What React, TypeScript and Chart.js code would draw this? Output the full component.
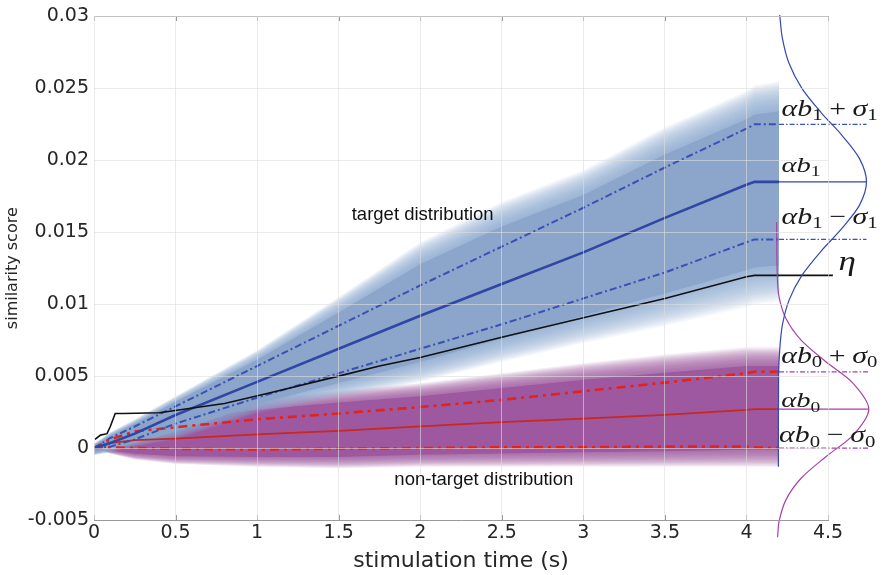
import React, { useEffect, useRef } from "react";
import { Chart, registerables } from "chart.js";
import type { ChartConfiguration, Plugin } from "chart.js";

Chart.register(...registerables);

// shared time grid (s) of the two distributions
const timeS = [0, 0.1, 0.25, 0.5, 1, 1.5, 2, 2.5, 3, 3.5, 4, 4.05, 4.2];

// target distribution: mean, +/- sigma and the outer edge of the shading
const targetMean = [0, 0.00035, 0.001, 0.0023, 0.0046, 0.0069, 0.0092, 0.0114, 0.0136, 0.016, 0.0183, 0.0185, 0.0185];
const targetUpper = [0, 0.0007, 0.0015, 0.0029, 0.0057, 0.0085, 0.0113, 0.014, 0.0167, 0.0195, 0.0222, 0.0225, 0.0225];
const targetLower = [0, 0.0001, 0.0006, 0.0017, 0.0035, 0.0052, 0.0069, 0.0086, 0.0104, 0.0122, 0.0143, 0.0145, 0.0145];
const targetShadeTop = [0.0003, 0.0011, 0.002, 0.0036, 0.0068, 0.0105, 0.0143, 0.0171, 0.0193, 0.0223, 0.0248, 0.0252, 0.0255];
const targetShadeBottom = [-0.0005, -0.0003, 0.0001, 0.0006, 0.0024, 0.0035, 0.0046, 0.006, 0.0073, 0.0085, 0.0098, 0.01, 0.0102];

// non-target distribution
const nontargetMean = [0, 0.00035, 0.00055, 0.00065, 0.00095, 0.0012, 0.0015, 0.0018, 0.00205, 0.0023, 0.00265, 0.0027, 0.0027];
const nontargetUpper = [0, 0.0006, 0.00115, 0.00145, 0.002, 0.0024, 0.00285, 0.00335, 0.00395, 0.00455, 0.0052, 0.0053, 0.0053];
const nontargetLower = [0, 0.00005, 0, -0.00005, -0.0001, -0.00005, 0, 0.00005, 0.00005, 0.0001, 0.0001, 0.00005, 0];
const nontargetShadeTop = [0, 0.0008, 0.0016, 0.0026, 0.0034, 0.004, 0.0045, 0.0052, 0.0059, 0.0065, 0.007, 0.007, 0.007];
const nontargetShadeBottom = [0, -0.0004, -0.0008, -0.0011, -0.0013, -0.0014, -0.0013, -0.0013, -0.0013, -0.0013, -0.0013, -0.0013, -0.0013];

// threshold eta
const etaTime = [0.006, 0.04, 0.08, 0.1, 0.13, 0.18, 0.4, 0.8, 1.1, 1.5, 1.75, 2, 2.5, 3, 3.5, 4, 4.05, 4.53];
const etaValue = [0.0006, 0.0009, 0.001, 0.0015, 0.0024, 0.0024, 0.00245, 0.0031, 0.0039, 0.005, 0.0057, 0.0063, 0.0077, 0.00905, 0.0104, 0.0119, 0.012, 0.012];

// density curves drawn sideways at the right
const targetPdfValue = [0.0301, 0.0285, 0.0268, 0.025, 0.0233, 0.0217, 0.0201, 0.0185, 0.0169, 0.0153, 0.0137, 0.012, 0.0103, 0.0086, 0.007, 0.005, -0.0013];
const targetPdfTime = [4.204, 4.22, 4.259, 4.34, 4.459, 4.588, 4.694, 4.736, 4.694, 4.588, 4.459, 4.34, 4.262, 4.221, 4.205, 4.197, 4.196];
const nontargetPdfValue = [0.0157, 0.012, 0.0105, 0.009, 0.0075, 0.006, 0.0045, 0.0027, 0.0009, -0.0006, -0.0021, -0.0036, -0.0051, -0.0062];
const nontargetPdfTime = [4.185, 4.189, 4.2, 4.242, 4.335, 4.487, 4.654, 4.75, 4.654, 4.487, 4.335, 4.242, 4.2, 4.191];

const xTickLabels = ["0", "0.5", "1", "1.5", "2", "2.5", "3", "3.5", "4", "4.5"];
const yTickLabels = ["-0.005", "0", "0.005", "0.01", "0.015", "0.02", "0.025", "0.03"];

const CORE = 0.7;
const RINGS = 16;
const STRETCH = 1.3;

const pts = (xs: number[], ys: number[]) => xs.map((x, i) => ({ x, y: ys[i] }));
const last = (a: number[]) => a[a.length - 1];
const tickText = (labels: string[], v: number | string) =>
  labels.find((l) => Math.abs(Number(l) - Number(v)) < 1e-9) ?? "";

// solid core plus a stack of faint rings so the shading fades outward
function band(mean: number[], top: number[], bottom: number[], rgb: string, coreAlpha: number, ringAlpha: number, order: number) {
  const out: any[] = [];
  const edge = (k: number, env: number[]) => timeS.map((x, i) => ({ x, y: mean[i] + k * (env[i] - mean[i]) }));
  const levels = [CORE];
  for (let j = 1; j <= RINGS; j++) levels.push(CORE + ((1 - CORE) * j) / RINGS);
  levels.forEach((k, j) => {
    const base = { borderColor: "transparent", borderWidth: 0, pointRadius: 0, order };
    out.push({ ...base, data: edge(k, bottom), fill: false });
    out.push({ ...base, data: edge(k, top), fill: "-1", backgroundColor: `rgba(${rgb},${j === 0 ? coreAlpha : ringAlpha})` });
  });
  return out;
}

function line(data: { x: number; y: number }[], color: string, width: number, order: number, dash: number[] = [], clip = true) {
  const ds: any = {
    data,
    borderColor: color,
    borderWidth: width,
    borderDash: dash,
    pointRadius: 0,
    fill: false,
    tension: 0,
    order,
  };
  if (!clip) ds.clip = false;
  return ds;
}

const targetEnd = Math.max(...targetPdfTime);
const nontargetEnd = Math.max(...nontargetPdfTime);
const flat = (from: number, to: number, y: number) => [{ x: from, y }, { x: to, y }];

const BLUE = "rgb(47,70,165)";
const BLUE_DASH = "rgb(58,80,180)";
const RED = "rgb(200,40,30)";
const RED_DASH = "rgb(226,34,28)";
const PURPLE = "rgb(168,64,166)";

const datasets: any[] = [
  { ...line(pts(targetPdfTime, targetPdfValue), "rgb(52,72,175)", 1.2, 0, [], false), tension: 0.3 },
  { ...line(pts(nontargetPdfTime, nontargetPdfValue), PURPLE, 1.2, 0, [], false), tension: 0.3 },
  line(pts(etaTime, etaValue), "#111111", 1.6, 1, [], false),
  line(pts(timeS, targetMean), BLUE, 2.6, 2),
  line(pts(timeS, targetUpper), BLUE_DASH, 2, 3, [7, 3, 2, 3]),
  line(pts(timeS, targetLower), BLUE_DASH, 2, 3, [7, 3, 2, 3]),
  line(pts(timeS, nontargetMean), RED, 1.8, 4),
  line(pts(timeS, nontargetUpper), RED_DASH, 2.6, 4, [9, 5, 3, 5]),
  line(pts(timeS, nontargetLower), RED_DASH, 2.6, 4, [9, 5, 3, 5]),
  line(flat(last(timeS), targetEnd, last(targetMean)), BLUE, 1.2, 5, [], false),
  line(flat(last(timeS), targetEnd, last(targetUpper)), BLUE_DASH, 1.2, 5, [5, 2, 1.5, 2], false),
  line(flat(last(timeS), targetEnd, last(targetLower)), BLUE_DASH, 1.2, 5, [5, 2, 1.5, 2], false),
  line(flat(last(timeS), nontargetEnd, last(nontargetMean)), PURPLE, 1.2, 5, [], false),
  line(flat(last(timeS), nontargetEnd, last(nontargetUpper)), PURPLE, 1.2, 5, [5, 2, 1.5, 2], false),
  line(flat(last(timeS), nontargetEnd, last(nontargetLower)), PURPLE, 1.2, 5, [5, 2, 1.5, 2], false),
  ...band(targetMean, targetShadeTop, targetShadeBottom, "138,164,202", 0.95, 0.1, 50),
  ...band(nontargetMean, nontargetShadeTop, nontargetShadeBottom, "158,88,160", 1, 0.1, 60),
];

type Piece = { t: string; k: "i" | "s" | "op" };
const ab = (n: string): Piece[] => [{ t: "α", k: "i" }, { t: "b", k: "i" }, { t: n, k: "s" }];
const sig = (n: string): Piece[] => [{ t: "σ", k: "i" }, { t: n, k: "s" }];

const mathLabels: { x: number; y: number; size: number; parts: Piece[] }[] = [
  { x: 4.215, y: 0.0231, size: 23, parts: [...ab("1"), { t: "+", k: "op" }, ...sig("1")] },
  { x: 4.215, y: 0.0192, size: 22, parts: ab("1") },
  { x: 4.215, y: 0.0156, size: 23, parts: [...ab("1"), { t: "−", k: "op" }, ...sig("1")] },
  { x: 4.565, y: 0.0124, size: 27, parts: [{ t: "η", k: "i" }] },
  { x: 4.213, y: 0.00593, size: 23, parts: [...ab("0"), { t: "+", k: "op" }, ...sig("0")] },
  { x: 4.213, y: 0.00283, size: 22, parts: ab("0") },
  { x: 4.2, y: 0.00041, size: 23, parts: [...ab("0"), { t: "−", k: "op" }, ...sig("0")] },
];

const textLabels = [
  { x: 2.015, y: 0.0162, text: "target distribution" },
  { x: 2.39, y: -0.0022, text: "non-target distribution" },
];

const framePlugin: Plugin<"line"> = {
  id: "frame",
  afterDatasetsDraw(chart) {
    const { ctx } = chart;
    const xs = chart.scales.x;
    const ys = chart.scales.y;
    const top = Math.round(ys.getPixelForValue(0.03));
    const bottom = Math.round(ys.getPixelForValue(-0.005));
    const left = Math.round(xs.getPixelForValue(0));
    const right = Math.round(xs.getPixelForValue(4.5));
    ctx.save();
    ctx.fillStyle = "#9a9a9a";
    ctx.fillRect(left, top, right - left + 1, 1);
    xTickLabels.forEach((l) => {
      const px = Math.round(xs.getPixelForValue(Number(l)));
      ctx.fillRect(px, top, 1, 5);
      ctx.fillRect(px, bottom - 5, 1, 5);
    });
    ctx.restore();
  },
};

const labelPlugin: Plugin<"line"> = {
  id: "labels",
  afterDraw(chart) {
    const { ctx } = chart;
    const xs = chart.scales.x;
    const ys = chart.scales.y;
    ctx.save();
    ctx.fillStyle = "#111111";
    ctx.textAlign = "center";
    ctx.textBaseline = "middle";
    ctx.font = '18.5px "Liberation Sans"';
    textLabels.forEach((l) => ctx.fillText(l.text, xs.getPixelForValue(l.x), ys.getPixelForValue(l.y)));

    ctx.fillStyle = "#1a1a1a";
    ctx.textAlign = "left";
    ctx.textBaseline = "alphabetic";
    mathLabels.forEach((l) => {
      ctx.save();
      ctx.translate(xs.getPixelForValue(l.x), ys.getPixelForValue(l.y));
      ctx.scale(STRETCH, 1);
      let cx = 0;
      l.parts.forEach((p) => {
        if (p.k === "op") {
          ctx.font = `${l.size}px "Liberation Serif"`;
          cx += l.size * 0.22;
          ctx.fillText(p.t, cx, 0);
          cx += ctx.measureText(p.t).width + l.size * 0.22;
        } else if (p.k === "s") {
          ctx.font = `${Math.round(l.size * 0.7)}px "Liberation Serif"`;
          ctx.fillText(p.t, cx, l.size * 0.2);
          cx += ctx.measureText(p.t).width;
        } else {
          ctx.font = `italic ${l.size}px "Liberation Serif"`;
          ctx.fillText(p.t, cx, 0);
          cx += ctx.measureText(p.t).width;
        }
      });
      ctx.restore();
    });
    ctx.restore();
  },
};

const gridColor = "rgba(222,222,222,0.6)";
const tickFont = { family: "DejaVu Sans", size: 19 };

const config: ChartConfiguration<"line"> = {
  type: "line",
  data: { datasets },
  options: {
    animation: false,
    responsive: true,
    maintainAspectRatio: false,
    events: [],
    layout: { padding: { left: 0, right: 60, top: 13, bottom: 0 } },
    plugins: { legend: { display: false }, tooltip: { enabled: false } },
    scales: {
      x: {
        type: "linear",
        min: 0,
        max: 4.5,
        afterFit: (s) => {
          s.height = 55;
        },
        // border drawn after the grid layer so its position is known
        border: { color: "#9a9a9a", width: 1, z: 2 },
        grid: { color: gridColor, drawTicks: false, z: 1 },
        ticks: {
          stepSize: 0.5,
          padding: 2,
          color: "#262626",
          font: tickFont,
          maxRotation: 0,
          autoSkip: false,
          callback: (v) => tickText(xTickLabels, v),
        },
        title: {
          display: true,
          text: "stimulation time (s)",
          color: "#262626",
          font: { family: "DejaVu Sans", size: 22 },
          padding: { top: 0, bottom: 1 },
        },
      },
      y: {
        type: "linear",
        min: -0.005,
        max: 0.03,
        afterFit: (s) => {
          s.width = 94;
        },
        border: { display: false },
        grid: { color: gridColor, drawTicks: false, z: 1 },
        ticks: {
          stepSize: 0.005,
          padding: 5,
          color: "#262626",
          font: tickFont,
          callback: (v) => tickText(yTickLabels, v),
        },
        title: {
          display: true,
          text: "similarity score",
          color: "#262626",
          font: { family: "DejaVu Sans", size: 16 },
          padding: { top: 3, bottom: 0 },
        },
      },
    },
  },
  plugins: [framePlugin, labelPlugin],
};

export default function App() {
  const canvasRef = useRef<HTMLCanvasElement | null>(null);

  useEffect(() => {
    if (!canvasRef.current) {
      return;
    }
    const chart = new Chart(canvasRef.current, config);
    return () => {
      chart.destroy();
    };
  }, []);

  return (
    <div style={{ position: "absolute", left: 0, top: 0, width: 888, height: 575 }}>
      <canvas ref={canvasRef}></canvas>
    </div>
  );
}
